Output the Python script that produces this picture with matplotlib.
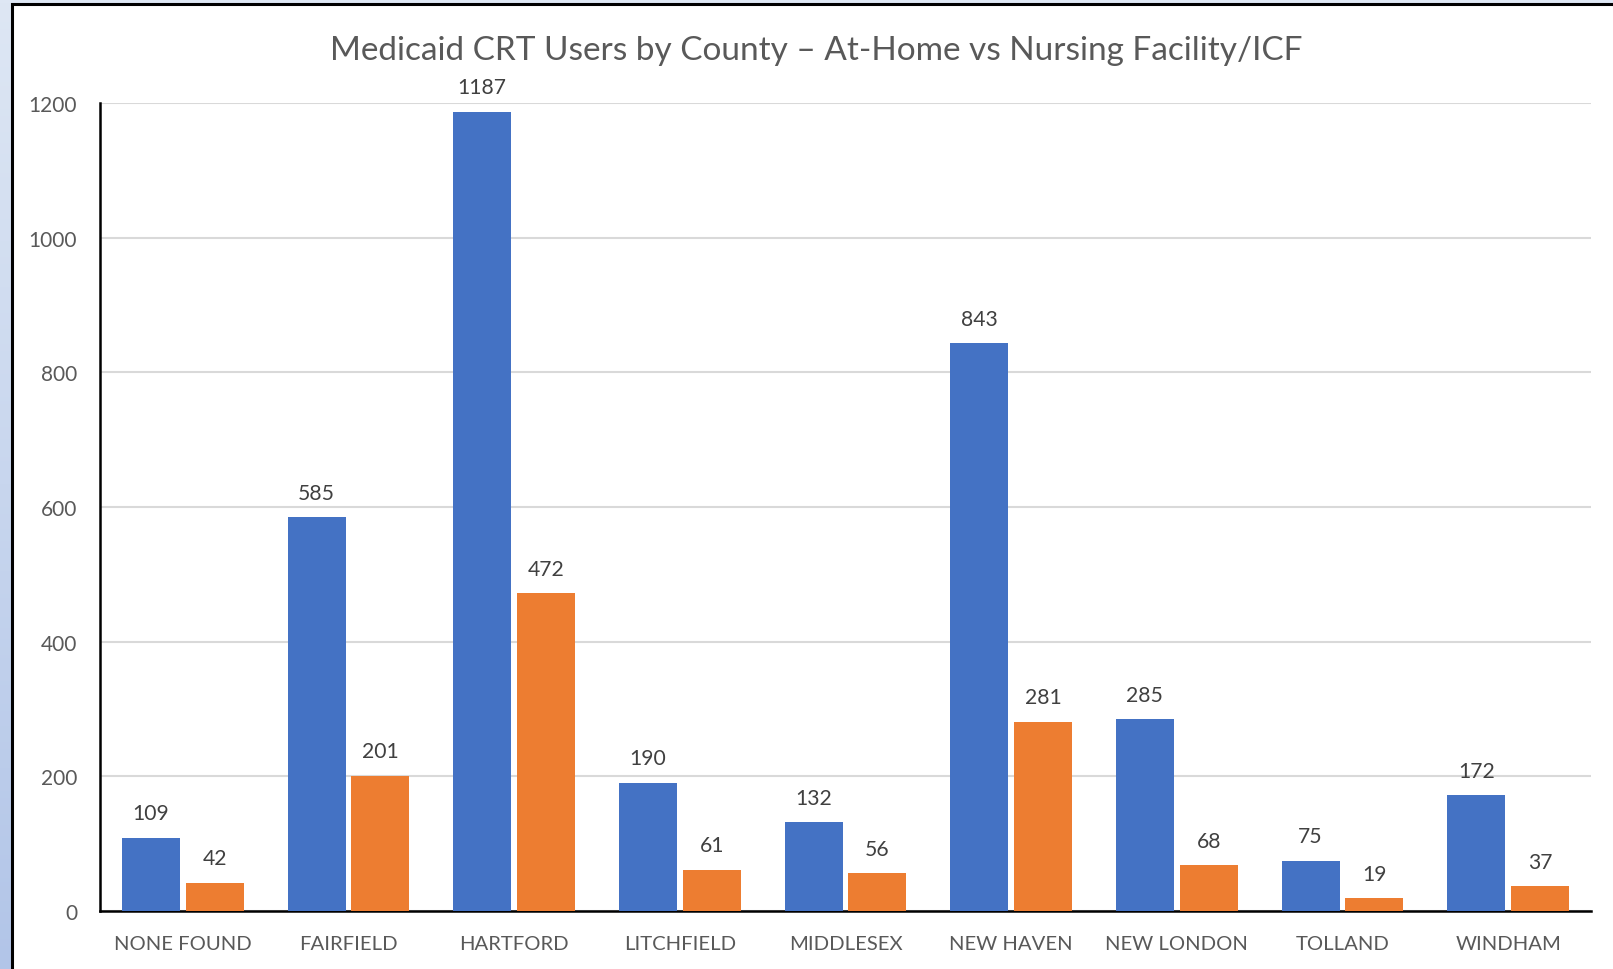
import matplotlib
matplotlib.use("Agg")
import matplotlib.pyplot as plt
import numpy as np
from matplotlib.patches import Rectangle
from matplotlib.colors import LinearSegmentedColormap

counties = ["NONE FOUND", "FAIRFIELD", "HARTFORD", "LITCHFIELD", "MIDDLESEX",
            "NEW HAVEN", "NEW LONDON", "TOLLAND", "WINDHAM"]
at_home = [109, 585, 1187, 190, 132, 843, 285, 75, 172]
nursing = [42, 201, 472, 61, 56, 281, 68, 19, 37]
series_names = ["At-Home", "Nursing Facility/ICF"]
yticks = [0, 200, 400, 600, 800, 1000, 1200]
title = "Medicaid CRT Users by County \u2013 At-Home vs Nursing Facility/ICF"

plt.rcParams['font.family'] = ['Lato', 'DejaVu Sans']
TXT = "#595959"
BLUE = "#4472C4"
ORANGE = "#ED7D31"

W, H = 1613, 970
fig = plt.figure(figsize=(W / 100, H / 100), dpi=100)

# slide background gradient
bg = fig.add_axes([0, 0, 1, 1], zorder=-10)
grad = np.linspace(0, 1, 256).reshape(-1, 1)
cmap = LinearSegmentedColormap.from_list("bg", ["#dee7f4", "#b2c5e8"])
bg.imshow(grad, aspect="auto", cmap=cmap, extent=[0, 1, 0, 1], origin="upper")
bg.add_patch(Rectangle((12 / W, -0.05), 1.1, 1 - 5 / H + 0.05,
                       facecolor="white", edgecolor="black", linewidth=2.2,
                       transform=bg.transAxes))
bg.set_xlim(0, 1); bg.set_ylim(0, 1)
bg.axis("off")

ax = fig.add_axes([100 / W, 1 - 912 / H, (1591 - 100) / W, (912 - 104) / H])
x = np.arange(len(counties))
w = 0.35
off = 0.193
b1 = ax.bar(x - off, at_home, w, color=BLUE, label=series_names[0], zorder=3)
b2 = ax.bar(x + off, nursing, w, color=ORANGE, label=series_names[1], zorder=3)

for bars, vals in ((b1, at_home), (b2, nursing)):
    for r, v in zip(bars, vals):
        ax.annotate(str(v), (r.get_x() + r.get_width() / 2, v),
                    xytext=(0, 10.5), textcoords="offset points",
                    ha="center", va="bottom", fontsize=15.2, color="#404040")

ax.set_xlim(-0.5, len(counties) - 0.5)
ax.set_ylim(0, 1200)
ax.set_yticks(yticks)
ax.set_yticklabels([str(t) for t in yticks])
ax.set_xticks(x)
ax.set_xticklabels(counties)
ax.tick_params(axis="y", length=0, pad=16.5, labelsize=15, labelcolor=TXT)
ax.tick_params(axis="x", length=0, pad=17.5, labelsize=14.6, labelcolor=TXT)
ax.grid(axis="y", color="#d9d9d9", linewidth=1.5, zorder=0)
ax.set_axisbelow(True)
for s in ("top", "right"):
    ax.spines[s].set_visible(False)
ax.spines["left"].set_color("black")
ax.spines["left"].set_linewidth(1.8)
ax.spines["bottom"].set_color("black")
ax.spines["bottom"].set_linewidth(1.8)

fig.text(816 / W, 1 - 51 / H, title, ha="center", va="center",
         fontsize=24, color=TXT)

fig.savefig("out.png", dpi=100)
